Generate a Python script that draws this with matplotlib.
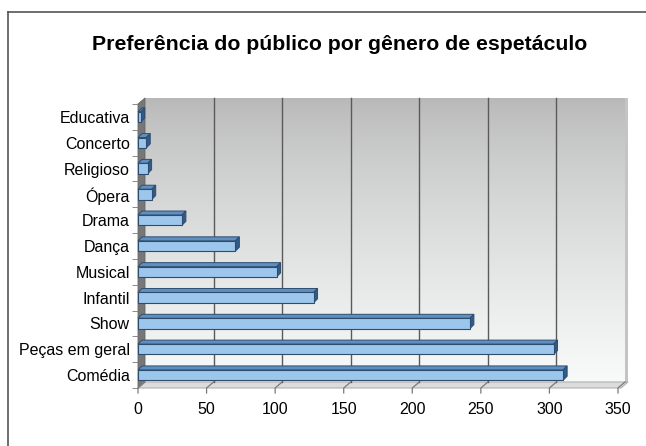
import numpy as np
import matplotlib
matplotlib.use("Agg")
import matplotlib.pyplot as plt
from matplotlib.patches import Polygon, Rectangle
from matplotlib.lines import Line2D

# data (bottom to top)
generos = ["Comédia", "Peças em geral", "Show", "Infantil", "Musical", "Dança",
           "Drama", "Ópera", "Religioso", "Concerto", "Educativa"]
valores = [310, 303, 242, 128, 101, 71, 32, 10, 7, 6, 2]
xticks = [0, 50, 100, 150, 200, 250, 300, 350]

plt.rcParams["font.family"] = ["Liberation Sans", "DejaVu Sans"]

W, H = 646, 446
fig = plt.figure(figsize=(W / 100, H / 100), dpi=100)
fig.patch.set_facecolor("white")

# front plane in pixels: x 0->138, 350->618 ; y bottom 388, top 104
left, right, bottom, top = 138, 618, 388, 104
ax = fig.add_axes([left / W, (H - bottom) / H, (right - left) / W, (bottom - top) / H])
ax.set_facecolor("none")
for s in ax.spines.values():
    s.set_visible(False)

ppx = (right - left) / 350.0        # px per x unit
ppy = (bottom - top) / 11.0         # px per y unit
dx, dy = 7 / ppx, 6 / ppy           # wall depth
bdx, bdy = 4 / ppx, 4 / ppy         # bar depth

# back wall gradient
grad = np.linspace(0, 1, 256).reshape(-1, 1)
c_top, c_bot = np.array([0.72, 0.72, 0.72]), np.array([0.975, 0.98, 0.98])
img = (c_top + (c_bot - c_top) * grad[:, :, None] ** 0.75).reshape(256, 1, 3)
ax.imshow(img, extent=[dx, 350 + dx, -0.5 + dy, 10.5 + dy], origin="upper",
          aspect="auto", zorder=0, clip_on=False)
ax.set_xlim(0, 350)
ax.set_ylim(-0.5, 10.5)

# right wall edge
ax.add_patch(Rectangle((350 + dx, -0.5 + dy), 3 / ppx, 11, facecolor="#c4c4c4",
                       edgecolor="none", zorder=1, clip_on=False))
# left wall
ax.add_patch(Polygon([(0, -0.5), (dx, -0.5 + dy), (dx, 10.5 + dy), (0, 10.5)],
                     closed=True, facecolor="#777777", edgecolor="#666666",
                     lw=0.6, zorder=1, clip_on=False))
# floor
ax.add_patch(Polygon([(0, -0.5), (dx, -0.5 + dy), (350 + dx + 3 / ppx, -0.5 + dy),
                      (350 + 3 / ppx, -0.5)],
                     closed=True, facecolor="#dcdcdc", edgecolor="#b0b0b0",
                     lw=0.8, zorder=1, clip_on=False))

# gridlines on back wall + slanted ticks
for v in xticks:
    if 0 < v < 350:
        ax.plot([v + dx, v + dx], [-0.5 + dy, 10.5 + dy], color="#5a5a5a",
                lw=1.0, zorder=2, clip_on=False)
    ax.plot([v + dx, v, v], [-0.5 + dy, -0.5, -0.5 - 5 / ppy], color="#7a7a7a",
            lw=0.9, zorder=2, clip_on=False)

# bars with depth
h = 0.4
for i, v in enumerate(valores):
    y0 = i - h / 2
    ax.add_patch(Polygon([(0, y0 + h), (bdx, y0 + h + bdy), (v + bdx, y0 + h + bdy),
                          (v, y0 + h)], closed=True, facecolor="#5f8fc0",
                         edgecolor="#2e4d6e", lw=0.7, zorder=4, clip_on=False))
    ax.add_patch(Polygon([(v, y0), (v + bdx, y0 + bdy), (v + bdx, y0 + h + bdy),
                          (v, y0 + h)], closed=True, facecolor="#2f5b87",
                         edgecolor="#2e4d6e", lw=0.7, zorder=4, clip_on=False))
    ax.add_patch(Rectangle((0, y0), v, h, facecolor="#9cc6ec",
                           edgecolor="#2e4d6e", lw=0.8, zorder=5, clip_on=False))

ax.set_yticks(range(len(generos)))
ax.set_yticklabels(generos, fontsize=11.5)
ax.set_yticks(np.arange(-0.5, 11, 1), minor=True)
ax.tick_params(axis="y", which="major", length=0, pad=6)
ax.tick_params(axis="y", which="minor", length=4, color="#7a7a7a", direction="out")
ax.set_xticks(xticks)
ax.set_xticklabels([str(t) for t in xticks], fontsize=11.5)
ax.tick_params(axis="x", length=0, pad=10)

fig.text(340 / W, 1 - 45 / H, "Preferência do público por gênero de espetáculo",
         ha="center", va="center", fontsize=15.3, fontweight="bold")

# outer frame (left and top edges visible)
fig.add_artist(Line2D([8 / W, 8 / W], [0, 1 - 12 / H], transform=fig.transFigure,
                      color="#555555", lw=1.2))
fig.add_artist(Line2D([8 / W, 1], [1 - 12 / H, 1 - 12 / H], transform=fig.transFigure,
                      color="#555555", lw=1.2))

fig.savefig("out.png", dpi=100)
